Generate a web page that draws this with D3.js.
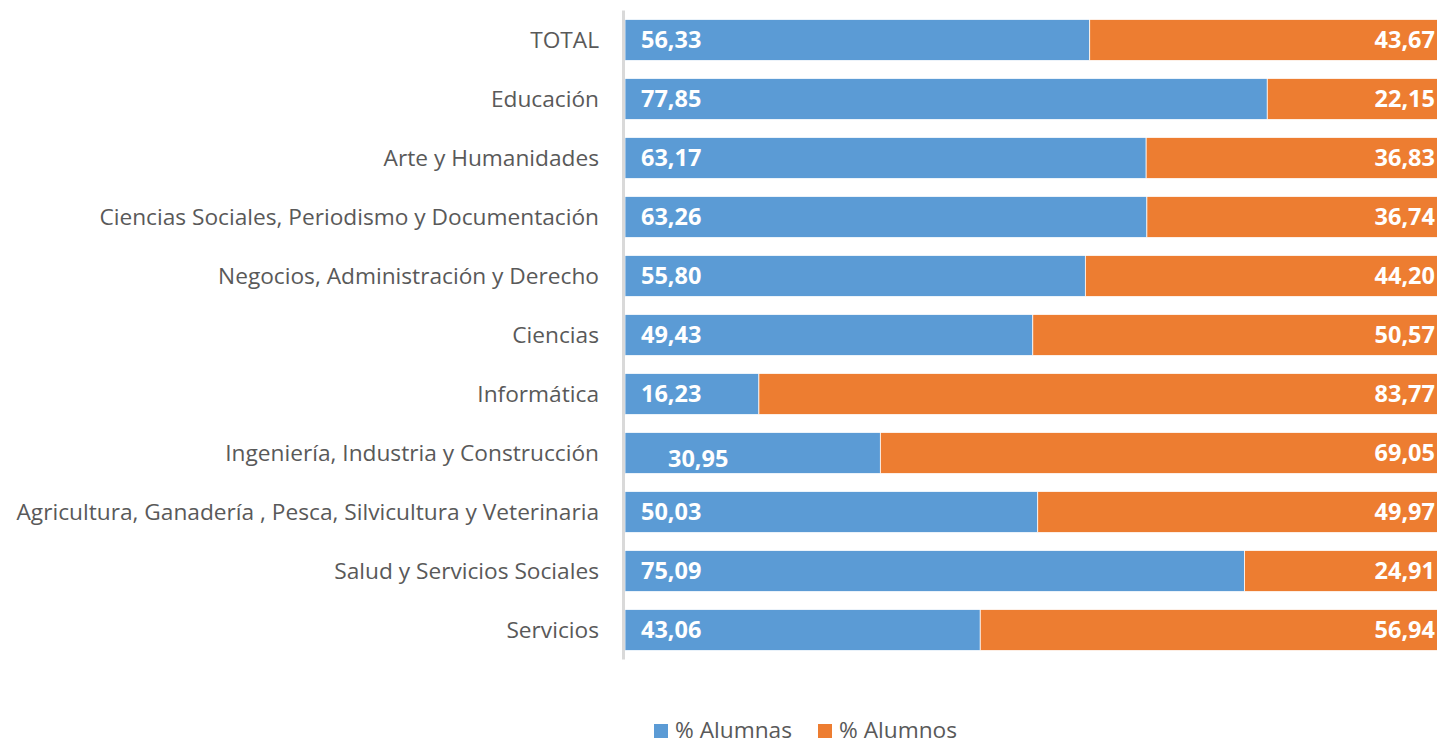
<!DOCTYPE html>
<html><head><meta charset="utf-8">
<script src="https://cdn.jsdelivr.net/npm/d3@7"></script>
<style>
html,body{margin:0;padding:0;background:#fff;overflow:hidden}
svg{display:block}
</style></head>
<body>
<svg id="chart" width="1437" height="746"></svg>
<script>
const categories = ["TOTAL","Educación","Arte y Humanidades","Ciencias Sociales, Periodismo y Documentación","Negocios, Administración y Derecho","Ciencias","Informática","Ingeniería, Industria y Construcción","Agricultura, Ganadería , Pesca, Silvicultura y Veterinaria","Salud y Servicios Sociales","Servicios"];
const alumnas = [56.33,77.85,63.17,63.26,55.80,49.43,16.23,30.95,50.03,75.09,43.06];
const alumnos = [43.67,22.15,36.83,36.74,44.20,50.57,83.77,69.05,49.97,24.91,56.94];
const seriesNames = ["% Alumnas","% Alumnos"];
const colors = ["#5b9bd5","#ed7d31"];

const svg = d3.select("#chart");
const FONT = "'Open Sans', 'Noto Sans', sans-serif";
const fmt = v => v.toFixed(2).replace(".", ",");

const x = d3.scaleLinear().domain([0,100]).range([625,1450]);
const y = d3.scaleBand().domain(categories).range([10.5,659.5]).paddingInner(0.305).paddingOuter(0.152);

// measure label font size
const meas = svg.append("text").style("font-family",FONT).style("font-size","20px").text(categories[8]);
const w20 = meas.node().getComputedTextLength();
meas.remove();
const catSize = 20*583/w20;

// category labels
const yAxis = d3.axisLeft(y).tickSize(0).tickPadding(0);
const gy = svg.append("g").attr("transform","translate(599,0)").call(yAxis);
gy.select(".domain").remove();
gy.selectAll("text").style("font-family",FONT).style("font-size",catSize+"px").attr("fill","#595959").attr("dy","0.35em");

const data = categories.map((c,i)=>({c, a:alumnas[i], o:alumnos[i]}));

const g = svg.append("g");
g.selectAll("rect.a").data(data).join("rect").attr("class","a")
  .attr("x",x(0)).attr("y",d=>y(d.c)).attr("width",d=>x(d.a)-x(0)).attr("height",y.bandwidth())
  .attr("fill",colors[0]).attr("stroke","#fff").attr("stroke-width",0.75);
g.selectAll("rect.o").data(data).join("rect").attr("class","o")
  .attr("x",d=>x(d.a)).attr("y",d=>y(d.c)).attr("width",d=>x(d.a+d.o)-x(d.a)).attr("height",y.bandwidth())
  .attr("fill",colors[1]).attr("stroke","#fff").attr("stroke-width",0.75);

// axis line
svg.append("line").attr("x1",623.5).attr("x2",623.5).attr("y1",y.range()[0]).attr("y2",y.range()[1])
  .attr("stroke","#d9d9d9").attr("stroke-width",3);

// value labels
const valSize = 23.5;
g.selectAll("text.a").data(data).join("text").attr("class","a")
  .attr("x",d=> d.c.startsWith("Ingenier") ? 668 : 641)
  .attr("y",d=>y(d.c)+y.bandwidth()/2+ (d.c.startsWith("Ingenier")?6:0)).attr("dy","0.35em")
  .attr("fill","#fff").style("font-family",FONT).style("font-weight","bold").style("font-size",valSize+"px")
  .text(d=>fmt(d.a));
g.selectAll("text.o").data(data).join("text").attr("class","o")
  .attr("x",1435).attr("text-anchor","end")
  .attr("y",d=>y(d.c)+y.bandwidth()/2).attr("dy","0.35em")
  .attr("fill","#fff").style("font-family",FONT).style("font-weight","bold").style("font-size",valSize+"px")
  .text(d=>fmt(d.o));

// legend
const legX = [654, 818];
const lg = svg.append("g");
seriesNames.forEach((n,i)=>{
  lg.append("rect").attr("x",legX[i]).attr("y",724).attr("width",14).attr("height",14).attr("fill",colors[i]);
  lg.append("text").attr("x",legX[i]+21).attr("y",730).attr("dy","0.35em").attr("fill","#595959")
    .style("font-family",FONT).style("font-size",catSize+"px").text(n);
});
</script>
</body></html>
